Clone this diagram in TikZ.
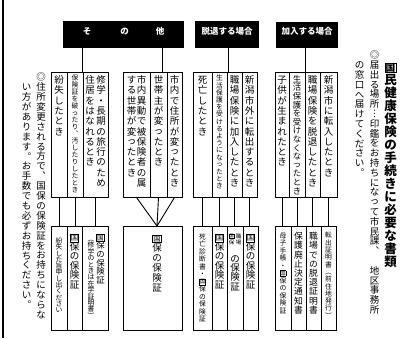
\documentclass[tikz,border=0pt]{standalone}
\usepackage{fontspec}
\usepackage{graphicx}
\setmainfont{Noto Sans CJK JP}
\usetikzlibrary{fit}
\newcommand\jfs[2]{\fontsize{#1}{#2}\selectfont}
\newcommand\kk{{\setlength\fboxsep{0.2pt}\setlength\fboxrule{0.6pt}\fbox{\scalebox{0.78}{国}}}}
\ExplSyntaxOn
\cs_new:Npn \vtstrut: {\vrule height .88em depth .12em width 0pt}
\cs_new_protected:Npn \vtchar:n #1
 {
  \str_case:nnF {#1}
   {
    {っ}{\hbox to 1em{\vtstrut:\hss\raise .1em\hbox{#1}\hss}}
   }
   {\hbox to 1em{\vtstrut:\hss #1\hss}}
 }
\NewDocumentCommand \vt { O{1.05em} m }
 {
  \vbox
   {
    \offinterlineskip
    \tl_map_inline:nn {#2}
     { \vbox to #1 { \vss \vtchar:n {##1} \vss } }
   }
 }
\ExplSyntaxOff
\tikzset{
  hdr/.style={fill=black, text=white, inner sep=0pt, font=\bfseries\jfs{8.5}{9}},
  bx/.style={draw, line width=0.9pt, inner sep=0pt},
  ln/.style={line width=0.9pt},
  tx/.style={inner sep=0pt, anchor=north, font=\jfs{9.5}{10}},
  sm/.style={tx, font=\jfs{6.8}{7}},
  md/.style={tx, font=\jfs{8.4}{9}},
  ttl/.style={tx, font=\bfseries\jfs{12.5}{13}},
}
\begin{document}
\begin{tikzpicture}[x=1pt,y=-1pt]
\useasboundingbox (0,0) rectangle (412,338);
\fill[white] (0,0) rectangle (412,338);
\draw[line width=1.2pt] (3,0) -- (3,338);

% headers
\node[hdr, fit={(63,21)(184,48)}] (h1) {そ\hspace{29pt}の\hspace{27pt}他};
\node[hdr, fit={(195,21)(259,48)}] (h2) {脱退する場合};
\node[hdr, fit={(276,22)(338,48)}] (h3) {加入する場合};

% upper boxes
\node[bx, fit={(51,72)(67,197)}] (a1) {};
\node[bx, fit={(67,72)(83,197)}] (a2) {};
\node[bx, fit={(83,72)(108,197)}] (a3) {};
\node[bx, fit={(123,72)(150,197)}] (b1) {};
\node[bx, fit={(150,72)(167,197)}] (b2) {};
\node[bx, fit={(167,72)(182,197)}] (b3) {};
\node[bx, fit={(193,72)(212,197)}] (c1) {};
\node[bx, fit={(212,72)(227,197)}] (c2) {};
\node[bx, fit={(227,72)(242,197)}] (c3) {};
\node[bx, fit={(242,72)(257,197)}] (c4) {};
\node[bx, fit={(275,72)(289,197)}] (d1) {};
\node[bx, fit={(289,72)(305,197)}] (d2) {};
\node[bx, fit={(305,72)(320,197)}] (d3) {};
\node[bx, fit={(320,72)(337,197)}] (d4) {};

% lower boxes
\node[bx, fit={(51,226)(67,330)}] (la1) {};
\node[bx, fit={(67,226)(82,330)}] (la2) {};
\node[bx, fit={(82,226)(108,330)}] (la3) {};
\node[bx, fit={(123,226)(182,330)}] (lb) {};
\node[bx, fit={(193,226)(212,330)}] (lc1) {};
\node[bx, fit={(212,226)(227,330)}] (lc2) {};
\node[bx, fit={(227,226)(243,330)}] (lc3) {};
\node[bx, fit={(243,226)(258,330)}] (lc4) {};
\node[bx, fit={(275,226)(291,330)}] (ld1) {};
\node[bx, fit={(291,226)(306,330)}] (ld2) {};
\node[bx, fit={(306,226)(321,330)}] (ld3) {};
\node[bx, fit={(321,226)(336,330)}] (ld4) {};

% header connectors
\coordinate (g1) at (82,72);
\coordinate (g2) at (162,72);
\coordinate (g3) at (228,72);
\coordinate (g4) at (305,72);
\draw[ln] (g1 |- h1.south) -- (g1);
\draw[ln] (g2 |- h1.south) -- (g2);
\draw[ln] (g3 |- h2.south) -- (g3);
\draw[ln] (g4 |- h3.south) -- (g4);

% lower connectors
\coordinate (m) at (157,226);
\foreach \u/\l in {a1/la1,a2/la2,a3/la3,c1/lc1,c2/lc2,c3/lc3,c4/lc4,d1/ld1,d2/ld2,d3/ld3,d4/ld4}
  \draw[ln] (\u.south) -- (\u.south |- \l.north);
\draw[ln] (b1.south) -- (m);
\draw[ln] (b2.south) -- (m);
\draw[ln] (b3.south) -- (m);

% upper texts
\node[tx] (ta1) at ([yshift=-3pt]a1.north) {\vt[10.3pt]{紛失したとき}};
\node[sm] (ta2) at ([yshift=-3pt]a2.north) {\vt[7pt]{保険証を破ったり︑汚したりしたとき}};
\node[tx] (ta3r) at ([xshift=5.5pt,yshift=-3pt]a3.north) {\vt[10.3pt]{修学・長期の旅行のため}};
\node[tx] (ta3l) at ([xshift=-5.5pt,yshift=-3pt]a3.north) {\vt[10.3pt]{住居をはなれるとき}};
\node[tx] (tb1r) at ([xshift=5pt,yshift=-3pt]b1.north) {\vt[10.3pt]{市内異動で被保険者の属}};
\node[tx] (tb1l) at ([xshift=-5pt,yshift=-3pt]b1.north) {\vt[10.3pt]{する世帯が変ったとき}};
\node[tx] (tb2) at ([yshift=-3pt]b2.north) {\vt[10.3pt]{世帯主が変ったとき}};
\node[tx] (tb3) at ([yshift=-3pt]b3.north) {\vt[10.3pt]{市内で住所が変ったとき}};
\node[tx] (tc1) at ([yshift=-3pt]c1.north) {\vt[10.3pt]{死亡したとき}};
\node[sm] (tc2) at ([yshift=-3pt]c2.north) {\vt[7.2pt]{生活保護を受けるようになったとき}};
\node[tx] (tc3) at ([yshift=-3pt]c3.north) {\vt[10.3pt]{職場保険に加入したとき}};
\node[tx] (tc4) at ([yshift=-3pt]c4.north) {\vt[10.3pt]{新潟市外に転出するとき}};
\node[tx] (td1) at ([yshift=-3pt]d1.north) {\vt[10.3pt]{子供が生まれたとき}};
\node[md] (td2) at ([yshift=-3pt]d2.north) {\vt[8.6pt]{生活保護を受けなくなったとき}};
\node[tx] (td3) at ([yshift=-3pt]d3.north) {\vt[10.3pt]{職場保険を脱退したとき}};
\node[tx] (td4) at ([yshift=-3pt]d4.north) {\vt[10.3pt]{新潟市に転入したとき}};

% lower texts
\node[sm] (tla1) at ([yshift=-12pt]la1.north) {\vt[6.3pt]{紛失した旨申し出ください}};
\node[tx] (tla2) at ([yshift=-7pt]la2.north) {\vt[9.4pt]{{\kk}保の保険証}};
\node[md] (tla3r) at ([xshift=5.5pt,yshift=-7pt]la3.north) {\vt[8.6pt]{{\kk}保の保険証}};
\node[sm] (tla3l) at ([xshift=-4pt,yshift=-10pt]la3.north) {\vt[6.4pt]{︵修学のときは在学証明書︶}};
\node[tx] (tlb) at ([xshift=4.5pt,yshift=-7pt]lb.north) {\vt[10pt]{{\kk}保の保険証}};
\node[sm] (tlc1) at ([yshift=-7pt]lc1.north) {\vt[7.5pt]{死亡診断書・{\kk}保の保険証}};
\node[tx] (tlc2) at ([yshift=-7pt]lc2.north) {\vt[9.4pt]{{\kk}保の保険証}};
\node[sm, font=\jfs{5.5}{6}] (tlc3r) at ([xshift=3.5pt,yshift=-7pt]lc3.north) {\vt[6.5pt]{職場}};
\node[sm, font=\jfs{5.5}{6}] (tlc3l) at ([xshift=-3.5pt,yshift=-7pt]lc3.north) {\vt[6.5pt]{{\kk}保}};
\node[tx] (tlc3) at ([yshift=-28pt]lc3.north) {\vt[9.4pt]{の保険証}};
\node[tx] (tlc4) at ([yshift=-7pt]lc4.north) {\vt[9.4pt]{{\kk}保の保険証}};
\node[sm] (tld1) at ([yshift=-6pt]ld1.north) {\vt[7.5pt]{母子手帳・{\kk}保の保険証}};
\node[tx, font=\jfs{8.8}{9}] (tld2) at ([yshift=-6pt]ld2.north) {\vt[9.2pt]{保護廃止決定通知書}};
\node[tx, font=\jfs{8.8}{9}] (tld3) at ([yshift=-6pt]ld3.north) {\vt[9.2pt]{職場での脱退証明書}};
\node[sm] (tld4) at ([yshift=-6pt]ld4.north) {\vt[7.3pt]{転出証明書︵前住地発行︶}};

% left note
\node[tx] (n1) at (41,72) {\vt[9.9pt]{◎住所変更される方で︑国保の保険証をお持ちにならな}};
\node[tx] (n2) at (26.5,82) {\vt[9.9pt]{い方があります︒お手数でも必ずお持ちください︒}};

% title block
\node[ttl] (t1) at (390.5,60) {\vt[13pt]{{\kk}民健康保険の手続きに必要な書類}};
\node[tx] (t2) at (374.5,50) {\vt[9.8pt]{◎届出る場所︙印鑑をお持ちになって市民課︑　地区事務所}};
\node[tx] (t3) at (359.5,60) {\vt[9.8pt]{の窓口へ届けてください︒}};
\end{tikzpicture}
\end{document}
